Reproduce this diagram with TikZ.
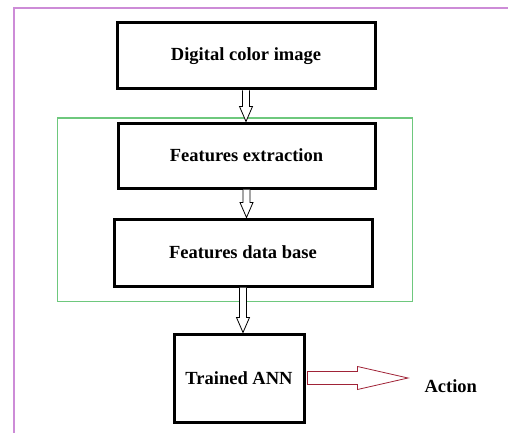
\documentclass[tikz,border=0pt]{standalone}
\usepackage{fontspec}
\setmainfont{Liberation Serif}
\usetikzlibrary{calc, positioning}

\definecolor{frameviolet}{RGB}{205,140,215}
\definecolor{groupgreen}{RGB}{110,200,125}
\definecolor{arrowred}{RGB}{160,35,55}

% hollow block arrow pointing down, between two named nodes
\newcommand{\hollowdown}[2]{%
  \draw[hollow] let \p1=(#1.south), \p2=(#2.north) in
    (\x1-3.5pt,\y1) -- (\x1-3.5pt,\y2+15pt) -- (\x1-6.5pt,\y2+15pt) -- (\x1,\y2)
    -- (\x1+6.5pt,\y2+15pt) -- (\x1+3.5pt,\y2+15pt) -- (\x1+3.5pt,\y1);
}

\begin{document}
\begin{tikzpicture}[
    x=1pt, y=-1pt,
    box/.style={rectangle, draw, line width=3pt, align=center, font=\fontsize{18.5}{20}\selectfont\bfseries},
    label/.style={font=\fontsize{18.5}{20}\selectfont\bfseries},
    hollow/.style={draw=black, fill=white, line width=0.8pt}
]
    \useasboundingbox (0,0) rectangle (508,433);

    % outer frame
    \draw[frameviolet, line width=1.6pt] (508,8) -- (14,8) -- (14,433);

    % group of feature steps
    \draw[groupgreen, line width=1pt] (57,118) rectangle (412,301);

    % boxes
    \node[box, minimum width=258, minimum height=66] (img) at (246,56) {Digital color image};
    \node[box, minimum width=257, minimum height=65] (ext) at (246.5,155.5) {Features extraction};
    \node[box, minimum width=258, minimum height=67] (db) at (243,252.5) {Features data base};
    \node[box, minimum width=130, minimum height=88] (ann) at (239,378) {Trained ANN};
    \node[label, anchor=west] (act) at (421,386) {Action};

    % arrows
    \hollowdown{img}{ext}
    \hollowdown{ext}{db}
    \hollowdown{db}{ann}

    \draw[hollow, draw=arrowred] let \p1=(ann.east), \p2=(act.west) in
        (\x1+2pt,\y1-6.5pt) -- (\x1+52pt,\y1-6.5pt) -- (\x1+52pt,\y1-11.5pt) -- (\x2-13pt,\y1)
        -- (\x1+52pt,\y1+11.5pt) -- (\x1+52pt,\y1+6.5pt) -- (\x1+2pt,\y1+6.5pt) -- cycle;
\end{tikzpicture}
\end{document}
